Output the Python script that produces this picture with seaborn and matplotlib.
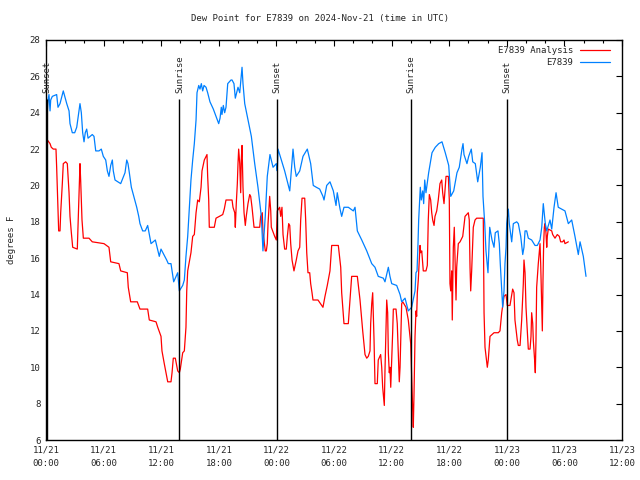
import numpy as np
import pandas as pd
import matplotlib
matplotlib.use("Agg")
import matplotlib.pyplot as plt
import matplotlib.dates as mdates
import seaborn as sns

# ---- data (hours after 2024-11-21 00:00 UTC, degrees F) ----
obs_hours = [0.0, 0.14, 0.21, 0.31, 0.42, 0.49, 0.66, 1.11, 1.25, 1.46, 1.80, 1.95, 2.16, 2.40, 2.50,
             2.74, 2.99, 3.20, 3.41, 3.54, 3.68, 3.82, 3.96, 4.09, 4.24, 4.38, 4.82, 5.00, 5.18, 5.52,
             5.76, 5.97, 6.22, 6.39, 6.56, 6.74, 6.91, 7.01, 7.19, 7.78, 8.23, 8.41, 8.54, 8.68, 8.89,
             9.24, 9.45, 9.66, 9.79, 10.07, 10.34, 10.59, 10.94, 11.39, 11.80, 11.98, 12.57, 12.74, 13.02,
             13.30, 13.72, 13.89, 14.24, 14.41, 14.58, 14.76, 14.93, 15.10, 15.28, 15.45, 15.63, 15.73,
             15.91, 16.04, 16.18, 16.32, 16.46, 16.67, 16.84, 17.08, 17.43, 17.64, 17.99, 18.13, 18.26,
             18.33, 18.47, 18.61, 18.75, 18.93, 19.27, 19.38, 19.58, 19.72, 20.00, 20.18, 20.42, 20.52,
             20.70, 21.04, 21.39, 21.74, 22.08, 22.43, 22.60, 22.84, 23.05, 23.33, 23.65, 23.99, 24.09,
             24.17, 24.51, 24.86, 25.39, 25.73, 25.91, 26.07, 26.43, 26.77, 27.22, 27.57, 27.84, 28.16,
             28.51, 28.85, 28.96, 29.24, 29.58, 29.93, 30.21, 30.34, 30.63, 30.80, 31.04, 31.49, 32.01,
             32.19, 32.43, 32.89, 33.41, 33.93, 34.27, 34.61, 35.14, 35.31, 35.66, 35.83, 36.01, 36.53,
             36.88, 37.05, 37.40, 37.74, 38.09, 38.44, 38.54, 38.65, 38.75, 38.82, 38.99, 39.09, 39.24,
             39.34, 39.45, 39.58, 39.86, 40.21, 40.55, 40.91, 41.25, 41.59, 41.95, 42.16, 42.47, 42.81,
             43.05, 43.33, 43.44, 43.54, 43.85, 44.03, 44.30, 44.45, 44.72, 44.97, 45.24, 45.42, 45.52,
             45.70, 45.83, 46.04, 46.22, 46.46, 46.67, 46.80, 47.08, 47.22, 47.32, 47.57, 47.71, 47.81,
             47.92, 47.99, 48.16, 48.26, 48.51, 48.68, 49.03, 49.20, 49.45, 49.66, 49.79, 49.90, 50.07,
             50.24, 50.59, 50.94, 51.18, 51.46, 51.64, 51.80, 52.01, 52.16, 52.50, 52.68, 52.92, 53.13,
             53.36, 53.72, 54.06, 54.41, 54.76, 55.10, 55.45, 55.63, 55.97, 56.25]
obs_values = [23.9, 24.1, 24.7, 25.0, 24.1, 24.7, 24.9, 25.0, 24.3, 24.5, 25.2, 24.9, 24.5, 24.1, 23.4,
              22.9, 22.9, 23.2, 24.0, 24.5, 24.0, 22.9, 22.4, 22.9, 23.1, 22.6, 22.8, 22.7, 21.9, 21.9,
              22.0, 21.6, 21.4, 20.8, 20.5, 21.1, 21.4, 20.8, 20.3, 20.1, 20.7, 21.4, 21.2, 20.7, 19.9,
              19.2, 18.8, 18.3, 17.9, 17.5, 17.5, 17.8, 16.8, 17.0, 16.1, 16.5, 15.9, 15.7, 15.7,
              14.7, 15.2, 14.2, 14.5, 14.8, 16.1, 17.2, 18.8, 20.3, 21.4, 22.3, 23.6, 25.1,
              25.5, 25.3, 25.6, 25.2, 25.5, 25.4, 25.1, 24.6, 24.2, 23.9, 23.4, 23.7, 24.3,
              23.9, 24.4, 24.0, 24.3, 25.6, 25.8, 25.8, 25.6, 24.8, 25.4, 25.1, 26.5, 25.6,
              24.5, 23.6, 22.7, 21.2, 19.9, 18.3, 16.4, 18.3, 20.5, 21.7, 21.0, 21.2, 20.8,
              22.0, 21.4, 20.8, 19.7, 22.0, 21.0, 20.5, 20.8, 21.6, 22.0, 21.2, 20.0, 19.9,
              19.8, 19.4, 19.2, 20.0, 20.2, 19.7, 18.9, 19.6, 18.7, 18.3, 18.8, 18.8, 18.6,
              18.8, 17.5, 17.0, 16.4, 15.7, 15.5, 15.0, 14.9, 14.7, 15.5, 15.0, 14.6, 14.5,
              14.0, 13.6, 13.8, 13.1, 13.3, 14.2, 15.2, 15.3, 16.8, 18.1, 19.9, 19.2, 19.7,
              19.0, 20.3, 19.6, 20.7, 21.8, 22.1, 22.3, 22.4, 21.8, 21.1, 19.4, 19.7, 20.7,
              21.0, 22.0, 22.3, 21.7, 21.2, 21.6, 22.0, 21.3, 21.2, 20.2, 21.0, 21.8, 19.4,
              17.9, 16.4, 15.2, 17.7, 17.0, 16.6, 17.4, 17.5, 16.8, 15.7, 13.3, 14.2, 15.7,
              16.6, 17.9, 18.7, 17.9, 16.9, 17.9, 18.0, 17.9, 17.2, 16.2, 16.6, 17.5, 17.5,
              17.1, 17.0, 16.7, 16.7, 17.0, 17.7, 19.0, 17.9, 17.5, 18.1, 17.6, 18.8, 19.6,
              18.8, 18.7, 18.6, 17.9, 18.1, 17.2, 16.2, 16.9, 16.1, 15.0]

ana_hours = [0.0, 0.14, 0.42, 0.55, 0.76, 1.04, 1.11, 1.25, 1.32, 1.46, 1.53, 1.70, 1.80, 2.05, 2.22,
             2.40, 2.50, 2.64, 2.78, 3.26, 3.33, 3.41, 3.54, 3.61, 3.75, 3.89, 4.48, 4.82, 6.04, 6.56,
             6.74, 7.60, 7.78, 8.47, 8.57, 8.82, 9.51, 9.79, 10.59, 10.76, 11.46, 11.64, 11.98, 12.08,
             12.32, 12.68, 13.02, 13.13, 13.26, 13.47, 13.72, 13.89, 13.99, 14.24, 14.41, 14.58, 14.66,
             14.76, 15.10, 15.28, 15.45, 15.63, 15.80, 15.97, 16.15, 16.25, 16.49, 16.77, 16.84, 16.95,
             17.01, 17.53, 17.71, 18.05, 18.41, 18.57, 18.75, 19.38, 19.48, 19.66, 19.72, 19.82, 19.93,
             20.00, 20.07, 20.18, 20.28, 20.34, 20.42, 20.52, 20.63, 20.76, 20.86, 21.04, 21.22, 21.32,
             21.46, 21.67, 22.26, 22.36, 22.53, 22.60, 22.71, 22.84, 22.95, 23.05, 23.13, 23.30, 23.41,
             23.47, 23.82, 23.99, 24.09, 24.34, 24.45, 24.58, 24.69, 24.86, 25.03, 25.14, 25.28, 25.39,
             25.49, 25.63, 25.83, 26.07, 26.25, 26.43, 26.53, 26.67, 26.95, 27.05, 27.16, 27.29, 27.47,
             27.57, 27.71, 27.81, 28.33, 28.85, 29.06, 29.30, 29.58, 29.76, 30.45, 30.70, 30.80, 31.04,
             31.49, 31.74, 31.84, 32.43, 32.71, 32.99, 33.23, 33.41, 33.57, 33.75, 33.82, 33.93, 34.03,
             34.09, 34.17, 34.27, 34.51, 34.61, 34.86, 34.97, 35.07, 35.24, 35.31, 35.42, 35.49, 35.59,
             35.66, 35.76, 35.83, 35.91, 36.01, 36.11, 36.18, 36.46, 36.59, 36.70, 36.80, 36.88, 36.95,
             37.05, 37.16, 37.50, 37.74, 37.99, 38.09, 38.20, 38.26, 38.33, 38.44, 38.54, 38.61, 38.68,
             38.78, 38.96, 39.03, 39.14, 39.30, 39.58, 39.72, 39.82, 39.93, 40.07, 40.18, 40.28, 40.42,
             40.52, 40.70, 40.86, 41.04, 41.22, 41.32, 41.46, 41.56, 41.67, 41.91, 42.01, 42.08, 42.16,
             42.26, 42.32, 42.43, 42.53, 42.71, 42.78, 42.95, 43.13, 43.41, 43.65, 43.99, 44.09, 44.17,
             44.24, 44.34, 44.51, 44.69, 44.86, 45.55, 45.63, 45.73, 45.97, 46.07, 46.25, 46.67, 47.11,
             47.29, 47.47, 47.71, 47.92, 48.05, 48.33, 48.61, 48.75, 48.85, 49.09, 49.20, 49.38, 49.55,
             49.72, 49.79, 49.90, 50.00, 50.14, 50.24, 50.42, 50.52, 50.59, 50.70, 50.76, 50.91, 50.97,
             51.04, 51.11, 51.28, 51.46, 51.53, 51.64, 51.70, 51.77, 51.84, 51.91, 51.98, 52.08, 52.16,
             52.22, 52.32, 52.68, 52.78, 53.02, 53.26, 53.47, 53.61, 53.82, 53.96, 54.06, 54.41]
ana_values = [21.1, 22.5, 22.3, 22.1, 22.0, 22.0, 21.0, 18.6, 17.5, 17.5, 18.5, 20.1, 21.2, 21.3, 21.2,
              19.6, 18.3, 17.4, 16.6, 16.5, 17.7, 19.2, 21.2, 20.3, 18.1, 17.1, 17.1, 16.9, 16.8, 16.6,
              15.8, 15.7, 15.3, 15.2, 14.4, 13.6, 13.6, 13.2, 13.2, 12.6, 12.5, 12.2, 11.7, 10.9,
              10.2, 9.2, 9.2, 9.7, 10.5, 10.5, 9.8, 9.7, 9.9, 10.8, 10.9, 12.2, 14.2,
              15.3, 16.3, 17.2, 17.3, 18.5, 19.2, 19.1, 19.9, 20.8, 21.4, 21.7, 20.5, 19.2,
              17.7, 17.7, 18.2, 18.3, 18.4, 18.7, 19.2, 19.2, 18.8, 18.5, 17.7, 19.0, 20.1,
              21.2, 22.0, 21.2, 19.6, 21.4, 22.2, 19.9, 18.5, 17.8, 18.3, 19.0, 19.5, 19.4,
              18.8, 17.7, 17.7, 18.3, 18.5, 17.4, 17.0, 16.4, 16.4, 16.8, 17.9, 19.4, 18.6,
              17.7, 17.2, 17.0, 18.6, 18.8, 18.3, 18.8, 17.3, 16.5, 16.5, 17.2, 17.9, 17.8,
              16.8, 15.9, 15.3, 15.9, 16.4, 16.6, 18.1, 19.3, 19.3, 18.1, 16.3, 15.2, 15.2,
              14.6, 14.1, 13.7, 13.7, 13.3, 13.9, 14.5, 15.3, 16.7, 16.7, 15.5, 14.1, 12.4,
              12.4, 14.2, 15.0, 15.0, 13.7, 12.0, 10.7, 10.5, 10.6, 10.9, 12.4, 13.5, 14.1,
              13.0, 11.5, 9.1, 9.1, 10.4, 10.7, 10.0, 8.9, 7.9, 9.8, 12.2, 13.7, 13.0,
              10.8, 9.7, 10.0, 8.9, 10.4, 11.9, 13.2, 13.2, 12.4, 10.8, 9.2, 10.0, 11.5,
              13.5, 13.6, 13.3, 12.6, 11.3, 9.5, 7.6, 6.7, 8.4, 11.7, 13.1, 12.8, 14.1,
              14.8, 16.7, 16.3, 16.4, 15.3, 15.3, 15.6, 18.1, 19.5, 19.2, 18.5, 18.1, 17.8,
              18.3, 18.6, 19.2, 20.1, 20.3, 19.6, 19.0, 19.7, 20.5, 20.5, 19.2, 14.6, 14.2,
              15.3, 12.6, 16.6, 17.7, 13.7, 15.5, 16.8, 16.9, 17.2, 18.3, 18.5, 18.1, 15.5,
              14.2, 15.3, 17.7, 18.1, 18.2, 18.2, 13.0, 11.1, 10.0, 10.4, 11.7, 11.9, 11.9,
              12.0, 13.0, 13.9, 14.0, 13.4, 13.4, 14.3, 14.1, 12.6, 11.5, 11.2, 11.2, 12.6,
              14.6, 15.9, 15.2, 13.3, 12.0, 11.0, 11.0, 11.7, 13.0, 12.4, 11.5, 10.3, 9.7,
              11.5, 14.4, 15.7, 16.8, 15.7, 13.3, 12.0, 14.8, 16.8, 17.7, 17.9, 17.4, 16.6,
              17.2, 17.6, 17.5, 17.3, 17.1, 17.3, 17.2, 16.9, 16.9, 17.0, 16.8, 16.9]

event_hours = [0.1, 13.9, 24.1, 37.98, 48.05]
event_labels = ["Sunset", "Sunrise", "Sunset", "Sunrise", "Sunset"]

series_names = ["E7839 Analysis", "E7839"]
series_colors = ["#ff0000", "#0080ff"]
title = "Dew Point for E7839 on 2024-Nov-21 (time in UTC)"
ylabel = "degrees F"

base = pd.Timestamp("2024-11-21 00:00")
df = pd.concat([
    pd.DataFrame({"time": base + pd.to_timedelta(ana_hours, unit="h"),
                  "value": ana_values, "series": series_names[0]}),
    pd.DataFrame({"time": base + pd.to_timedelta(obs_hours, unit="h"),
                  "value": obs_values, "series": series_names[1]}),
], ignore_index=True)

sns.set_style("white")
plt.rcParams["font.family"] = ["DejaVu Sans Mono", "DejaVu Sans"]
plt.rcParams["font.size"] = 6.5

fig = plt.figure(figsize=(6.4, 4.8), dpi=100)
ax = fig.add_axes([46 / 640, 1 - 440 / 480, 576 / 640, 400 / 480])

sns.lineplot(data=df, x="time", y="value", hue="series", hue_order=series_names,
             palette=dict(zip(series_names, series_colors)), estimator=None,
             linewidth=0.9, ax=ax)

ev_times = base + pd.to_timedelta(event_hours, unit="h")
ax.vlines(ev_times, 6, 24.75, color="black", linewidth=1.0, zorder=3)
for t, lab in zip(ev_times, event_labels):
    ax.text(t, 25.1, lab, rotation=90, ha="center", va="bottom", fontsize=6.5, zorder=4)

ax.set_xlim(base, base + pd.Timedelta(hours=60))
ax.set_ylim(6, 28)
ax.set_yticks(np.arange(6, 29, 2))
ax.xaxis.set_major_locator(mdates.HourLocator(byhour=[0, 6, 12, 18]))
ax.xaxis.set_minor_locator(mdates.HourLocator(byhour=range(0, 24, 2)))
ax.xaxis.set_major_formatter(mdates.DateFormatter("%m/%d\n%H:%M"))
ax.tick_params(which="both", direction="in", top=True, right=True, labelsize=6.5, color="black")
ax.tick_params(which="major", length=4.5, width=0.8, pad=4)
ax.tick_params(which="minor", length=2.5, width=0.8)
for lbl in ax.get_xticklabels():
    lbl.set_linespacing(1.65)
for sp in ax.spines.values():
    sp.set_color("black")
    sp.set_linewidth(1.0)

ax.set_xlabel("")
ax.set_ylabel(ylabel, fontsize=6.5, labelpad=10)
fig.suptitle(title, x=0.5, y=1 - 19 / 480, va="center", fontsize=6.5)

ax.legend(loc="upper right", bbox_to_anchor=(0.99, 1.0), frameon=False, markerfirst=False,
          fontsize=6.5, handlelength=3.3, handletextpad=0.8, labelspacing=0.35, borderaxespad=0.3)

fig.savefig("out.png", dpi=100)
